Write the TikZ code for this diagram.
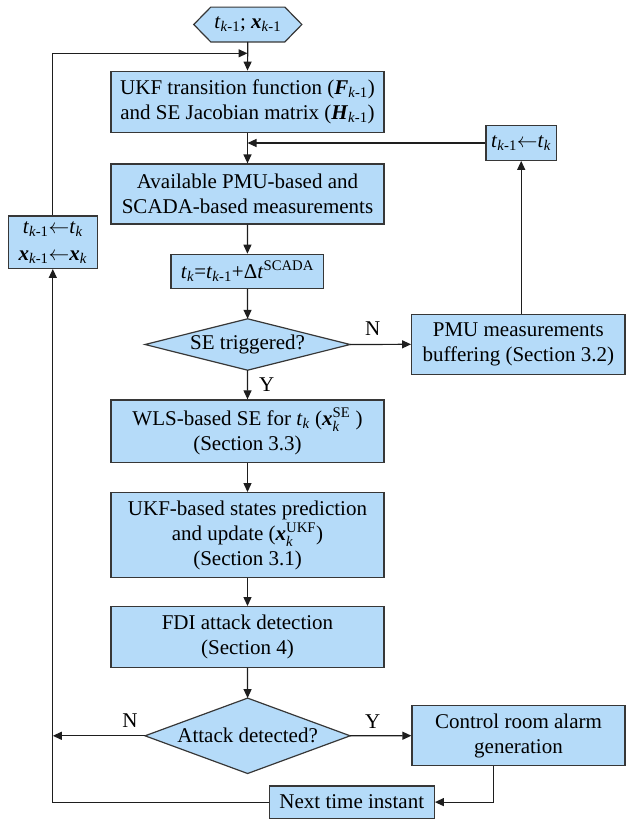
\documentclass[tikz,border=0pt]{standalone}
\usepackage{amsmath}
\usepackage{fontspec}
\setmainfont{Liberation Serif}
\usetikzlibrary{arrows.meta,backgrounds}
\definecolor{boxfill}{RGB}{181,219,249}
\definecolor{boxline}{RGB}{55,55,55}
\definecolor{wire}{RGB}{30,30,30}
\newcommand{\vi}[1]{\textit{#1}}
\newcommand{\vb}[1]{\textbf{\textit{#1}}}
\newcommand{\sbs}[1]{\textsubscript{#1}}
\newcommand{\km}{\sbs{\vi{k}-1}}
\newcommand{\larr}{$\leftarrow$}
\newcommand{\vxk}[1]{$\vb{x}^{\text{\upshape #1}}_{\text{\itshape k}}$}
\begin{document}
\begin{tikzpicture}[x=1pt,y=-1pt,
  every node/.style={font=\fontsize{21}{25}\selectfont},
  box/.style={draw=boxline, fill=boxfill, line width=1.2pt, align=center, inner sep=0pt},
  shp/.style={inner sep=0pt, align=center},
  shpline/.style={draw=boxline, fill=boxfill, line width=1.2pt, line join=miter},
  arr/.style={draw=wire, line width=1.2pt, -{Triangle[length=9pt,width=8pt]}},
  lbl/.style={inner sep=0pt}]
\useasboundingbox (0,0) rectangle (627,820);

% nodes
\node[shp, minimum width=107.7pt, minimum height=34.4pt] (start) at (247.8,24.5) {\vi{t}\km; \vb{x}\km};
\node[box, minimum width=273pt, minimum height=61pt] (b1) at (247.5,101.7)
  {UKF transition function (\vb{F}\km)\\and SE Jacobian matrix (\vb{H}\km)};
\node[box, minimum width=273pt, minimum height=60pt] (b2) at (247.5,194)
  {Available PMU-based and\\SCADA-based measurements};
\node[box, minimum width=152.7pt, minimum height=34pt] (b3) at (247.4,271.3)
  {\vi{t}\sbs{\vi{k}}=\vi{t}\km+Δ\vi{t}\textsuperscript{SCADA}};
\node[shp, minimum width=204.7pt, minimum height=51pt] (d1) at (247.6,344.5) {SE triggered?};
\node[box, minimum width=213.3pt, minimum height=60pt] (pmu) at (518.3,344.3)
  {PMU measurements\\buffering (Section 3.2)};
\node[box, minimum width=70.3pt, minimum height=34.6pt] (rb) at (521.2,143)
  {\vi{t}\km\larr\vi{t}\sbs{\vi{k}}};
\node[box, minimum width=89pt, minimum height=52.3pt] (lb) at (52.8,242.2)
  {\vi{t}\km\larr\vi{t}\sbs{\vi{k}}\\[2pt]\vb{x}\km\larr\vb{x}\sbs{\vi{k}}};
\node[box, minimum width=273pt, minimum height=62.7pt] (b4) at (247.5,431.3)
  {WLS-based SE for \vi{t}\sbs{\vi{k}} (\vxk{SE} )\\(Section 3.3)};
\node[box, minimum width=273pt, minimum height=84.7pt] (b5) at (247.5,535)
  {UKF-based states prediction\\and update (\vxk{UKF})\\(Section 3.1)};
\node[box, minimum width=273pt, minimum height=60.7pt] (b6) at (247.5,637)
  {FDI attack detection\\(Section 4)};
\node[shp, minimum width=204.7pt, minimum height=75pt] (d2) at (247.6,735.8) {Attack detected?};
\node[box, minimum width=213pt, minimum height=60pt] (ctrl) at (518.5,735.7)
  {Control room alarm\\generation};
\node[box, minimum width=165pt, minimum height=32.3pt] (next) at (351.8,802.1)
  {Next time instant};

% shapes behind the hexagon and diamonds
\begin{scope}[on background layer]
\path[shpline] ([xshift=17pt]start.north west) -- ([xshift=-17pt]start.north east) -- (start.east)
  -- ([xshift=-17pt]start.south east) -- ([xshift=17pt]start.south west) -- (start.west) -- cycle;
\path[shpline] (d1.north) -- (d1.east) -- (d1.south) -- (d1.west) -- cycle;
\path[shpline] (d2.north) -- (d2.east) -- (d2.south) -- (d2.west) -- cycle;
\end{scope}

% connectors
\coordinate (m1) at (b1.north |- 0,53.3);
\draw[arr] (start.south) -- (b1.north);
\draw[arr] (lb.north) |- (m1);
\draw[arr] (b1.south) -- (b2.north);
\draw[arr] (rb.west) -- (rb.west -| b1.south);
\draw[arr] (b2.south) -- (b3.north);
\draw[arr] (b3.south) -- (d1.north);
\draw[arr] (d1.east) -- node[lbl, pos=0.37, above=8pt] (n1) {N} (pmu.west);
\draw[arr] (rb.south |- pmu.north) -- (rb.south);
\draw[arr] (d1.south) -- node[lbl, pos=0.5, right=11pt] (y1) {Y} (b4.north);
\draw[arr] (b4.south) -- (b5.north);
\draw[arr] (b5.south) -- (b6.north);
\draw[arr] (b6.south) -- (d2.north);
\draw[arr] (d2.east) -- node[lbl, pos=0.37, above=7pt] (y2) {Y} (ctrl.west);
\draw[arr] (d2.west) -- node[lbl, pos=0.164, above=8pt] (n2) {N} (d2.west -| lb.south);
\draw[arr] ([xshift=-24.8pt]ctrl.south) |- (next.east);
\draw[arr] (next.west) -| (lb.south);
\end{tikzpicture}
\end{document}
